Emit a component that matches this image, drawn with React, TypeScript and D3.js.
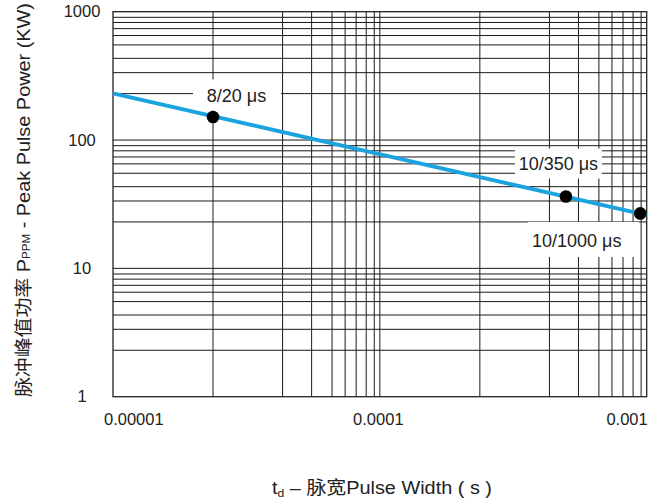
import React from "react";
import * as d3 from "d3";

// ---- data ----
const X_TICKS = [1e-5, 1e-4, 1e-3];
const X_TICK_LABELS = ["0.00001", "0.0001", "0.001"];
const Y_TICKS = [1, 10, 100, 1000];
const Y_TICK_LABELS = ["1", "10", "100", "1000"];
// gridline multipliers inside each decade (as drawn in the datasheet grid)
const X_GRID_MULT = [2.37, 4.32, 5.55, 6.62, 7.41, 8.15, 8.89, 9.53];
const Y_GRID_MULT = [2.3, 3.35, 4.33, 5.51, 6.52, 7.38, 8.24, 9.04];
const X_DECADES = [1e-5, 1e-4];
const Y_DECADES = [1, 10, 100];

// curve: pulse width (s) -> peak pulse power (kW)
const LINE_T = [1e-5, 1e-3];
const LINE_P = [231, 26];

// marked points
const POINT_T = [2.37e-5, 4.98e-4, 9.46e-4];
const POINT_P = [151, 36.3, 26.8];
const POINT_LABELS = ["8/20 μs", "10/350 μs", "10/1000 μs"];

const W = 663;
const H = 503;
const M = { left: 113, right: 16.3, top: 11.7, bottom: 106.3 };
const FONT = "'Liberation Sans', Arial, 'Noto Sans CJK SC', sans-serif";

export default function App() {
  const x = d3.scaleLog().domain([1e-5, 1e-3]).range([M.left, W - M.right]);
  const y = d3.scaleLog().domain([1, 1000]).range([H - M.bottom, M.top]);
  const [x0, x1] = x.range();
  const [y0, y1] = y.range();

  const xGrid: number[] = [];
  X_DECADES.forEach((d) => X_GRID_MULT.forEach((m) => xGrid.push(d * m)));
  xGrid.push(1e-4);
  const yGrid: number[] = [];
  Y_DECADES.forEach((d) => Y_GRID_MULT.forEach((m) => yGrid.push(d * m)));
  yGrid.push(10, 100);

  const line = d3
    .line<number>()
    .x((_, i) => x(LINE_T[i]))
    .y((_, i) => y(LINE_P[i]));

  // label placement relative to each point (pixels)
  const labelOffsets = [
    { dx: 24, dy: -22, w: 88, h: 31 },
    { dx: -7.5, dy: -33, w: 87, h: 30 },
    { dx: -57, dy: 26, w: 111, h: 35 },
  ];
  const textOffsets = [
    { dx: 23.5, dy: -22 },
    { dx: -7.5, dy: -32.5 },
    { dx: -63.5, dy: 27.5 },
  ];

  const xLabelPos = [
    { dx: -9, anchor: "start" },
    { dx: -1.5, anchor: "middle" },
    { dx: 1, anchor: "end" },
  ];

  return (
    <svg
      width={W}
      height={H}
      style={{ position: "absolute", left: 0, top: 0, background: "#fff" }}
      fontFamily={FONT}
    >
      <rect x={0} y={0} width={W} height={H} fill="#fff" />
      {/* grid */}
      <g stroke="#1a1a1a" strokeWidth={1}>
        {yGrid.map((v, i) => (
          <line key={"h" + i} x1={x0} x2={x1} y1={y(v)} y2={y(v)} />
        ))}
        {xGrid.map((v, i) => (
          <line key={"v" + i} x1={x(v)} x2={x(v)} y1={y0} y2={y1} />
        ))}
      </g>
      {/* frame */}
      <rect
        x={x0}
        y={y1}
        width={x1 - x0}
        height={y0 - y1}
        fill="none"
        stroke="#222"
        strokeWidth={1.3}
      />
      {/* label boxes */}
      {POINT_T.map((t, i) => {
        const o = labelOffsets[i];
        const cx = x(t) + o.dx;
        const cy = y(POINT_P[i]) + o.dy;
        return (
          <rect
            key={"b" + i}
            x={cx - o.w / 2}
            y={cy - o.h / 2}
            width={o.w}
            height={o.h}
            fill="#fff"
          />
        );
      })}
      {/* curve */}
      <path
        d={line(LINE_T) || ""}
        fill="none"
        stroke="#1ba3e0"
        strokeWidth={4}
      />
      {/* points */}
      {POINT_T.map((t, i) => (
        <circle key={"c" + i} cx={x(t)} cy={y(POINT_P[i])} r={6.3} fill="#000" />
      ))}
      {/* point labels */}
      {POINT_T.map((t, i) => {
        const o = textOffsets[i];
        return (
          <text
            key={"t" + i}
            x={x(t) + o.dx}
            y={y(POINT_P[i]) + o.dy}
            dy="0.36em"
            textAnchor="middle"
            fontSize={18}
            fill="#222"
          >
            {POINT_LABELS[i]}
          </text>
        );
      })}
      {/* x tick labels */}
      {X_TICKS.map((t, i) => (
        <text
          key={"xt" + i}
          x={x(t) + xLabelPos[i].dx}
          y={425}
          textAnchor={xLabelPos[i].anchor}
          fontSize={16.5}
          fill="#222"
        >
          {X_TICK_LABELS[i]}
        </text>
      ))}
      {/* y tick labels */}
      {Y_TICKS.map((v, i) => (
        <text
          key={"yt" + i}
          x={82}
          y={y(v)}
          dy="0.35em"
          textAnchor="middle"
          fontSize={16.5}
          fill="#222"
        >
          {Y_TICK_LABELS[i]}
        </text>
      ))}
      {/* axis titles */}
      <text
        x={272}
        y={494}
        fontSize={18}
        fill="#222"
        textLength={220}
        lengthAdjust="spacingAndGlyphs"
      >
        <tspan>t</tspan>
        <tspan fontSize={11} dy={3}>d</tspan>
        <tspan dy={-3}> – 脉宽Pulse Width ( s )</tspan>
      </text>
      <text
        transform={`translate(30, 397) rotate(-90)`}
        fontSize={18}
        fill="#222"
        textLength={394}
        lengthAdjust="spacingAndGlyphs"
      >
        <tspan>脉冲峰值功率 P</tspan>
        <tspan fontSize={10.5}>PPM</tspan>
        <tspan> - Peak Pulse Power (KW)</tspan>
      </text>
    </svg>
  );
}
